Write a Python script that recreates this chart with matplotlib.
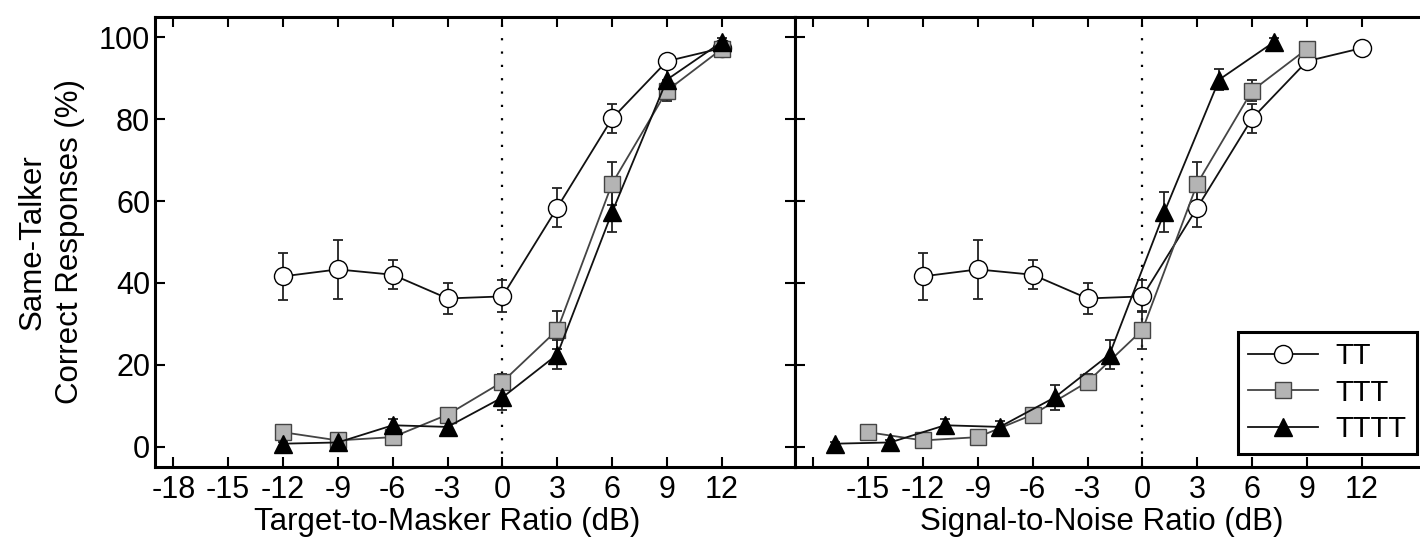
import numpy as np
import matplotlib.pyplot as plt
from matplotlib.lines import Line2D

plt.rcParams['font.family'] = ['Liberation Sans', 'DejaVu Sans']
plt.rcParams['axes.unicode_minus'] = False

# x positions (dB)
tmr = [-12, -9, -6, -3, 0, 3, 6, 9, 12]
snr_tt = [-12, -9, -6, -3, 0, 3, 6, 9, 12]
snr_ttt = [-15, -12, -9, -6, -3, 0, 3, 6, 9]
snr_tttt = [-16.8, -13.8, -10.8, -7.8, -4.8, -1.8, 1.2, 4.2, 7.2]

# % correct and error bars
tt = [41.6, 43.3, 42.0, 36.2, 36.7, 58.4, 80.2, 94.2, 97.4]
tt_err = [5.8, 7.3, 3.6, 3.9, 3.9, 4.8, 3.6, 1.5, 1.0]
ttt = [3.5, 1.5, 2.3, 7.8, 15.8, 28.5, 64.3, 87.0, 97.2]
ttt_err = [1.0, 1.0, 1.0, 1.5, 2.0, 4.6, 5.2, 2.5, 1.0]
tttt = [0.7, 1.0, 5.2, 4.8, 12.0, 22.5, 57.3, 89.7, 98.9]
tttt_err = [0.5, 0.5, 1.5, 1.5, 3.0, 3.5, 4.9, 2.5, 1.0]

xticks = [-18, -15, -12, -9, -6, -3, 0, 3, 6, 9, 12]
yticks = [0, 20, 40, 60, 80, 100]

fig = plt.figure(figsize=(14.2, 5.4), dpi=100)
ax1 = fig.add_axes([155/1420, 73/540, 640/1420, 450/540])
ax2 = fig.add_axes([795/1420, 73/540, 640/1420, 450/540])

styles = dict(
    tt=dict(marker='o', ms=13, mfc='white', mec='black', color='#111111', label='TT'),
    ttt=dict(marker='s', ms=11, mfc='#b4b4b4', mec='#444444', color='#444444', label='TTT'),
    tttt=dict(marker='^', ms=13, mfc='black', mec='black', color='#111111', label='TTTT'),
)

panels = [
    (ax1, tmr, tmr, tmr, 'Target-to-Masker Ratio (dB)', 0.456),
    (ax2, snr_tt, snr_ttt, snr_tttt, 'Signal-to-Noise Ratio (dB)', 0.48),
]

for ax, x1, x2, x3, xlab, lx in panels:
    ax.axvline(0, color='black', ls=(0, (1, 5)), lw=1.6, zorder=1)
    for x, y, e, key in [(x1, tt, tt_err, 'tt'), (x2, ttt, ttt_err, 'ttt'), (x3, tttt, tttt_err, 'tttt')]:
        ax.errorbar(x, y, yerr=e, lw=1.3, elinewidth=1.3, capsize=3.5, capthick=1.3,
                    ecolor='#222222', **styles[key])
    ax.set_xlim(-19, 16)
    ax.set_ylim(-5, 105)
    ax.set_xticks(xticks)
    ax.set_yticks(yticks)
    ax.tick_params(axis='both', direction='in', length=7, width=1.5, labelsize=22,
                   top=True, right=True)
    ax.tick_params(axis='x', pad=6)
    for s in ax.spines.values():
        s.set_linewidth(2.2)
    ax.set_xlabel(xlab, fontsize=22.5)
    ax.xaxis.set_label_coords(lx, -0.088)

ax1.set_yticklabels([str(v) for v in yticks])
ax1.set_ylabel('Same-Talker\nCorrect Responses (%)', fontsize=22.5, linespacing=1.3)
ax1.yaxis.set_label_coords(-0.11, 0.5)
ax2.set_yticklabels([])
ax2.set_xticklabels(['', '-15', '-12', '-9', '-6', '-3', '0', '3', '6', '9', '12'])

handles = [Line2D([], [], lw=1.3, **styles[k]) for k in ('tt', 'ttt', 'tttt')]
leg = ax2.legend(handles=handles, loc='lower right', bbox_to_anchor=(622/640, 0.03),
                 borderaxespad=0, fontsize=21, frameon=True, fancybox=False,
                 edgecolor='black', framealpha=1, handlelength=2.4, borderpad=0.35,
                 labelspacing=0.3, handletextpad=0.6)
leg.get_frame().set_linewidth(2.2)

fig.savefig('out.png', dpi=100)
